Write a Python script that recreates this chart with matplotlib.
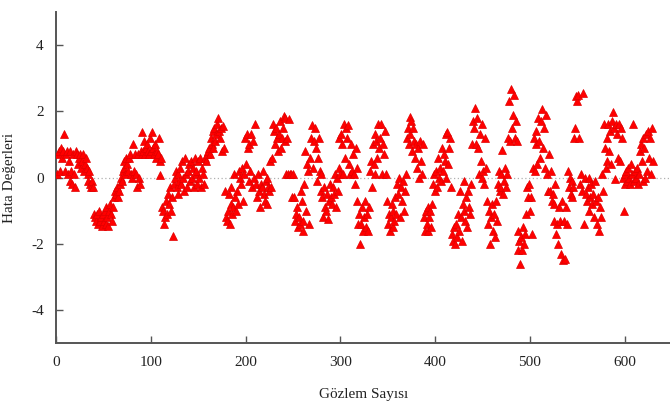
import matplotlib
matplotlib.use("Agg")
import matplotlib.pyplot as plt
import numpy as np

errors = [
    0.1, 0.7, 0.8, 0.2, 0.9, 0.6, 0.8, 1.3, 0.2, 0.7,
    0.8, 0.1, 0.5, -0.1, 0.8, 0.2, -0.2, 0.7, 0.1, -0.3,
    0.8, 0.7, 0.4, 0.6, 0.7, 0.3, 0.5, 0.7, 0.2, 0.4,
    0.6, 0.3, 0.1, -0.1, 0.2, -0.2, -0.3, -0.1, -0.3, -1.1,
    -1.2, -1.3, -1.1, -1.4, -1.0, -1.3, -1.2, -1.45, -1.1, -1.3,
    -1.0, -1.4, -0.9, -1.2, -1.45, -1.0, -0.8, -1.1, -1.3, -0.9,
    -0.6, -0.4, -0.5, -0.3, -0.6, -0.4, -0.2, 0.0, -0.1, 0.2,
    0.3, 0.5, 0.1, 0.6, 0.4, 0.2, 0.6, 0.7, 0.1, 0.0,
    1.0, 0.2, 0.7, 0.1, -0.3, 0.7, 0.0, -0.2, 0.8, 1.38,
    0.7, 0.8, 1.1, 0.7, 0.9, 1.0, 0.8, 0.7, 1.2, 0.8,
    1.38, 0.9, 0.7, 1.0, 0.6, 0.8, 0.7, 1.18, 0.07, 0.5,
    0.6, -0.9, -1.0, -1.4, -1.2, -0.7, -1.1, -0.5, -0.8, -0.3,
    -1.0, -0.6, -1.75, -0.2, 0.0, 0.2, -0.3, -0.5, 0.1, -0.1,
    0.3, -0.2, 0.5, 0.0, -0.4, 0.6, 0.1, -0.3, 0.2, 0.4,
    -0.1, 0.5, 0.0, 0.3, -0.3, 0.6, 0.1, 0.2, -0.2, 0.5,
    0.0, 0.6, -0.3, 0.3, 0.1, -0.2, 0.6, 0.5, 0.7, 0.8,
    0.9, 0.7, 1.2, 1.0, 1.4, 0.9, 1.5, 1.1, 1.3, 1.6,
    1.78, 1.4, 1.2, 1.5, 0.8, 1.55, 0.9, -0.4, -1.2, -1.3,
    -1.0, -0.5, -1.4, -0.8, -0.3, -1.1, -0.9, 0.1, -0.6, -1.0,
    -0.4, -0.8, 0.2, 0.0, -0.2, 0.3, -0.7, 0.1, 1.2, 0.4,
    1.3, 0.9, -0.1, 1.0, 0.2, 1.3, -0.3, 1.1, 0.0, 1.6,
    -0.2, -0.6, 0.1, -0.4, -0.9, -0.2, -0.3, 0.2, -0.5, -0.7,
    -0.1, -0.8, 0.0, -0.3, -0.4, 0.5, -0.3, 0.6, 1.6, 1.4,
    1.0, 1.5, 1.2, 0.8, 1.3, 1.7, 0.9, 1.2, 1.5, 1.85,
    1.1, 1.8, 0.1, 1.2, 0.1, 1.75, 0.1, 0.1, -0.6, 0.1,
    -0.6, -1.3, -1.1, -0.9, -1.5, -1.2, -1.4, -0.4, -0.7, -1.6,
    -1.3, -0.2, 0.8, -1.0, 0.4, 0.2, -1.4, 0.6, 1.2, 1.57,
    0.3, 1.1, 1.5, 0.9, -0.1, 0.6, 1.2, 0.2, -0.4, 0.1,
    -0.6, -1.2, -0.3, -0.9, -1.0, -0.5, -1.25, -0.7, -0.2, -0.6,
    -0.8, -0.3, -0.5, 0.1, -0.9, 0.0, -0.4, 1.2, 0.3, 0.1,
    1.3, 1.0, 0.1, 1.6, 0.6, 1.5, 1.2, 1.57, 0.4, 0.1,
    1.0, 0.2, 0.7, 0.1, -0.2, 0.9, 0.3, -0.7, -1.4, -1.1,
    -2.0, -1.4, -0.9, -1.6, -1.2, -0.7, -1.5, -1.1, -1.6, -0.9,
    0.2, 0.5, -0.3, 1.0, 0.4, 1.3, 0.1, 1.1, 0.6, 1.6,
    0.9, 1.2, 1.6, 0.1, 1.0, 0.7, 1.4, 0.1, -0.7, -1.4,
    -1.1, -1.6, -1.2, -0.8, -1.5, -1.0, -1.3, -0.6, -1.1, -0.2,
    -0.5, 0.0, -1.2, -0.3, -0.7, -0.1, -1.0, -0.4, 0.1, 1.2,
    1.5, 1.0, 1.83, 1.3, 1.7, 0.8, 1.5, 1.1, 0.6, 1.0,
    0.3, 0.9, 0.0, 1.1, 0.5, 0.1, 1.0, -1.2, -1.6, -1.0,
    -1.4, -0.9, -1.6, -1.2, -1.0, -1.5, -0.8, -0.2, 0.1, -0.4,
    0.2, -0.3, 0.6, 0.0, 0.3, -0.1, 0.9, 0.2, 0.7, 0.5,
    1.3, 0.0, 1.37, 0.4, 0.9, 1.2, -0.3, -1.7, -1.9, -1.5,
    -2.0, -1.4, -1.8, -1.1, -1.6, -0.4, -1.2, -1.9, -0.8, -1.0,
    -0.1, -1.3, -0.6, -1.5, -0.4, -0.9, -1.1, -0.2, 1.0, 1.7,
    1.5, 2.1, 1.0, 1.8, 0.9, 0.1, 1.3, 0.5, 1.6, 0.0,
    0.2, -0.2, 1.2, 0.3, -0.7, -1.4, -1.0, -2.0, -1.2, -0.8,
    -1.6, -1.1, -1.8, -0.7, -1.3, -0.2, 0.2, -0.4, -0.3, 0.1,
    0.82, -0.5, -0.1, 0.3, -0.3, 0.1, 1.2, 2.3, 1.1, 2.68,
    1.5, 1.9, 2.5, 1.2, 1.7, 1.1, -1.6, -2.2, -1.9, -2.6,
    -1.8, -2.2, -1.5, -2.0, -1.7, -1.1, -0.3, -0.6, -0.2, -1.0,
    -0.6, -1.7, 0.3, 1.2, 0.2, 1.4, 1.0, 0.4, 1.8, 1.1,
    0.6, 1.7, 2.07, 0.9, 1.5, 0.3, 1.9, 0.1, -0.4, 0.7,
    -0.4, 0.2, -0.7, -0.5, -1.3, -0.8, -0.2, -1.7, -1.4, -2.0,
    -0.9, -1.3, -2.3, -0.7, -2.5, -1.3, -2.45, -0.9, -1.4, 0.2,
    -0.3, 0.0, -0.5, -0.1, -0.6, -0.3, 1.2, 1.5, 2.45, 2.3,
    2.5, 1.2, -0.2, 0.1, -0.4, 2.55, -1.4, 0.0, -0.5, -0.7,
    -0.3, 0.0, -1.0, -0.6, -0.2, -0.8, -0.5, -1.2, -0.1, -0.7,
    -1.4, -0.6, -1.6, -0.9, -1.2, 0.1, -0.4, 1.6, 0.9, 0.3,
    1.2, 0.5, 1.6, 0.8, 1.4, 0.4, 1.7, 1.97, 1.5, -0.03,
    1.6, 1.3, 0.6, 1.6, 0.5, 1.5, 1.2, 0.0, -1.0, 0.1,
    -0.2, 0.2, -0.1, 0.3, 0.0, -0.2, 0.4, 0.1, 1.6, -0.1,
    0.2, 0.0, 0.3, -0.2, 0.1, 0.8, 1.0, 0.5, -0.1, 1.2,
    0.9, 0.0, 1.3, 0.2, 1.4, 0.6, 1.2, 0.1, 1.5, 0.5,
]
observations = list(range(1, len(errors) + 1))

x_ticks = [0, 100, 200, 300, 400, 500, 600]
y_ticks = [-4, -2, 0, 2, 4]
x_label = "Gözlem Sayısı"
y_label = "Hata Değerleri"

plt.rcParams['font.family'] = ['Liberation Serif', 'DejaVu Serif']
plt.rcParams['axes.unicode_minus'] = False

fig = plt.figure(figsize=(6.70, 4.03), dpi=100)
ax = fig.add_axes([0.084, 0.148, 0.916, 0.823])

ax.axhline(0, color='#b0b0b0', linestyle=(0, (1, 2)), linewidth=0.9, zorder=1)
ax.plot(observations, errors, linestyle='none', marker='^', markersize=5.3,
        color='#ff0000', markeredgecolor='#e00000', markeredgewidth=0.5, zorder=3)

ax.set_xlim(0, 648)
ax.set_ylim(-5, 5)
ax.set_xticks(x_ticks)
ax.set_yticks(y_ticks)

for s in ['top', 'right']:
    ax.spines[s].set_visible(False)
for s in ['left', 'bottom']:
    ax.spines[s].set_color('#555555')
    ax.spines[s].set_linewidth(1.4)

ax.tick_params(direction='in', length=5, width=1.0, color='#555555',
               labelsize=11, labelcolor='#222222', pad=9)

ax.set_xlabel(x_label, fontsize=11, color='#222222', labelpad=14)
ax.set_ylabel(y_label, fontsize=11, color='#222222')
ax.yaxis.set_label_coords(-0.066, 0.5)

fig.savefig('out.png', dpi=100)
